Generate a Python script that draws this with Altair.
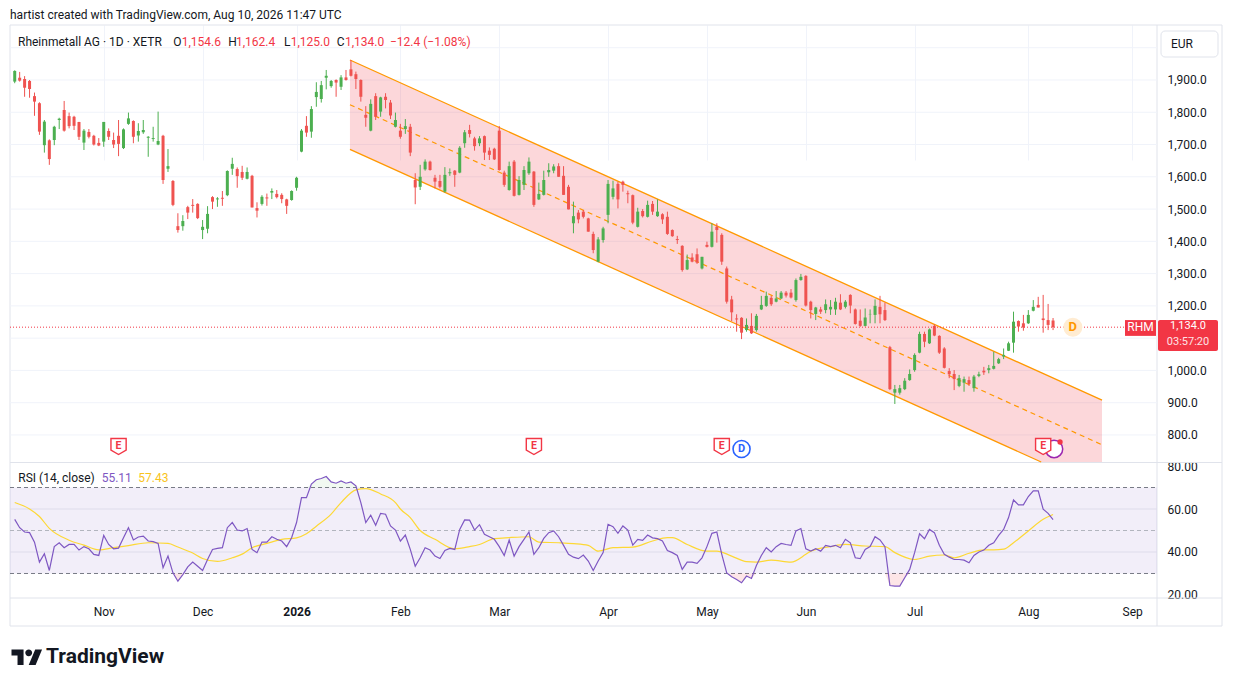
import json
import altair as alt
import pandas as pd

FONT = "Roboto"
INK = "#131722"
UP = "#4caf50"
DOWN = "#ef5350"
RED = "#f23645"
GRID = "#f0f3fa"
LINE = "#e0e3eb"
ORANGE = "#ff9800"
PURPLE = "#7e57c2"
YELLOW = "#fdd835"

# ---------------- data (bar index 0 = 3 Nov 2025, daily XETR bars) ----------------
START = -18

O = [1895, 1907, 1903, 1897, 1850, 1828, 1698, 1713, 1714, 1776,
     1807, 1788, 1786, 1770, 1706, 1739, 1727, 1705, 1709, 1742,
     1714, 1727, 1689, 1764, 1773, 1728, 1738, 1721, 1717, 1700,
     1727, 1625, 1587, 1447, 1447, 1506, 1513, 1516, 1435, 1439,
     1537, 1530, 1535, 1543, 1625, 1624, 1615, 1594, 1603, 1503,
     1516, 1536, 1551, 1547, 1544, 1530, 1528, 1566, 1678, 1758,
     1740, 1847, 1841, 1907, 1881, 1900, 1879, 1908, 1933, 1918,
     1900, 1792, 1743, 1850, 1802, 1848, 1830, 1755, 1743, 1748,
     1755, 1590, 1569, 1623, 1647, 1597, 1587, 1554, 1611, 1619,
     1613, 1704, 1745, 1719, 1704, 1726, 1681, 1687, 1743, 1613,
     1559, 1647, 1544, 1575, 1611, 1616, 1530, 1544, 1614, 1619,
     1633, 1603, 1569, 1456, 1489, 1492, 1471, 1423, 1337, 1404,
     1482, 1538, 1578, 1585, 1549, 1543, 1445, 1494, 1476, 1516,
     1478, 1484, 1476, 1435, 1407, 1386, 1313, 1350, 1360, 1316,
     1389, 1383, 1445, 1420, 1316, 1220, 1161, 1163, 1125, 1138,
     1125, 1189, 1200, 1225, 1213, 1223, 1241, 1241, 1218, 1280,
     1293, 1213, 1175, 1189, 1187, 1189, 1189, 1210, 1197, 1234,
     1189, 1154, 1138, 1174, 1172, 1197, 1187, 1072, 931, 931,
     942, 970, 1001, 1055, 1113, 1084, 1138, 1107, 1068, 998,
     989, 952, 962, 970, 945, 983, 999, 1001, 1005, 1022,
     1043, 1061, 1086, 1153, 1146, 1146, 1185, 1203, 1161, 1156,
     1154.6]
H = [1930, 1925, 1912, 1900, 1861, 1831, 1776, 1716, 1758, 1783,
     1835, 1799, 1789, 1770, 1748, 1748, 1730, 1720, 1770, 1750,
     1737, 1776, 1750, 1799, 1775, 1766, 1776, 1726, 1755, 1802,
     1730, 1686, 1590, 1487, 1481, 1510, 1531, 1518, 1466, 1509,
     1540, 1537, 1556, 1620, 1659, 1629, 1634, 1629, 1606, 1521,
     1543, 1548, 1564, 1559, 1549, 1532, 1558, 1600, 1748, 1788,
     1819, 1893, 1897, 1931, 1900, 1902, 1915, 1931, 1962, 1926,
     1902, 1819, 1840, 1859, 1848, 1859, 1838, 1799, 1764, 1779,
     1764, 1611, 1637, 1654, 1650, 1606, 1606, 1630, 1626, 1621,
     1695, 1745, 1761, 1724, 1726, 1728, 1691, 1690, 1757, 1619,
     1647, 1652, 1602, 1633, 1660, 1618, 1582, 1619, 1642, 1639,
     1642, 1633, 1575, 1523, 1497, 1497, 1473, 1430, 1413, 1445,
     1590, 1588, 1585, 1588, 1557, 1545, 1504, 1500, 1526, 1525,
     1530, 1487, 1492, 1437, 1417, 1388, 1359, 1363, 1378, 1352,
     1399, 1456, 1456, 1425, 1322, 1231, 1174, 1165, 1161, 1177,
     1175, 1231, 1244, 1231, 1246, 1246, 1246, 1252, 1285, 1299,
     1295, 1216, 1197, 1197, 1220, 1218, 1225, 1236, 1218, 1236,
     1192, 1189, 1192, 1189, 1220, 1231, 1210, 1076, 955, 955,
     976, 1003, 1053, 1120, 1120, 1130, 1143, 1109, 1072, 1007,
     1001, 986, 981, 981, 986, 996, 1011, 1017, 1058, 1039,
     1068, 1089, 1182, 1155, 1172, 1187, 1218, 1228, 1234, 1206,
     1162.4]
L = [1890, 1895, 1848, 1845, 1789, 1730, 1675, 1637, 1698, 1748,
     1740, 1750, 1745, 1714, 1683, 1719, 1697, 1695, 1693, 1714,
     1689, 1664, 1686, 1761, 1704, 1709, 1733, 1662, 1709, 1698,
     1578, 1615, 1509, 1427, 1433, 1469, 1489, 1469, 1407, 1425,
     1500, 1507, 1510, 1540, 1606, 1566, 1590, 1592, 1505, 1474,
     1511, 1510, 1531, 1533, 1518, 1485, 1526, 1557, 1676, 1724,
     1721, 1817, 1830, 1871, 1876, 1848, 1869, 1898, 1911, 1872,
     1833, 1755, 1741, 1776, 1786, 1812, 1779, 1753, 1718, 1733,
     1664, 1515, 1559, 1619, 1619, 1564, 1564, 1551, 1603, 1569,
     1611, 1690, 1722, 1681, 1695, 1652, 1652, 1652, 1619, 1569,
     1557, 1539, 1542, 1559, 1606, 1507, 1528, 1542, 1600, 1611,
     1600, 1544, 1499, 1425, 1456, 1471, 1430, 1363, 1335, 1396,
     1456, 1530, 1502, 1554, 1518, 1453, 1443, 1474, 1474, 1482,
     1476, 1454, 1420, 1414, 1392, 1306, 1311, 1335, 1330, 1313,
     1381, 1381, 1396, 1327, 1207, 1153, 1120, 1097, 1120, 1113,
     1120, 1187, 1197, 1200, 1211, 1221, 1226, 1223, 1213, 1278,
     1198, 1161, 1156, 1175, 1177, 1172, 1172, 1187, 1192, 1177,
     1142, 1135, 1136, 1146, 1146, 1146, 1153, 939, 896, 925,
     939, 968, 996, 1053, 1072, 1082, 1106, 1051, 1006, 976,
     939, 948, 934, 952, 934, 979, 986, 991, 1003, 1020,
     1035, 1060, 1055, 1120, 1123, 1144, 1183, 1195, 1117, 1125,
     1125.0]
C = [1928, 1898, 1876, 1872, 1833, 1740, 1771, 1655, 1755, 1780,
     1743, 1757, 1758, 1724, 1743, 1724, 1700, 1697, 1770, 1724,
     1700, 1702, 1747, 1781, 1724, 1742, 1745, 1724, 1720, 1711,
     1590, 1633, 1513, 1435, 1463, 1489, 1510, 1472, 1445, 1485,
     1523, 1533, 1532, 1618, 1640, 1602, 1597, 1615, 1505, 1495,
     1538, 1533, 1556, 1537, 1531, 1510, 1556, 1597, 1743, 1737,
     1810, 1863, 1884, 1913, 1897, 1892, 1908, 1900, 1913, 1903,
     1848, 1783, 1826, 1786, 1846, 1838, 1790, 1776, 1724, 1757,
     1675, 1567, 1600, 1647, 1621, 1585, 1569, 1606, 1614, 1606,
     1690, 1738, 1733, 1695, 1719, 1675, 1668, 1654, 1621, 1575,
     1633, 1541, 1590, 1621, 1647, 1513, 1547, 1590, 1621, 1632,
     1600, 1544, 1499, 1478, 1468, 1476, 1430, 1373, 1406, 1440,
     1578, 1564, 1530, 1575, 1546, 1458, 1492, 1478, 1513, 1492,
     1492, 1468, 1423, 1416, 1404, 1311, 1342, 1337, 1334, 1352,
     1383, 1430, 1435, 1337, 1213, 1180, 1158, 1117, 1141, 1115,
     1169, 1203, 1231, 1205, 1223, 1241, 1232, 1226, 1280, 1290,
     1201, 1187, 1195, 1182, 1205, 1197, 1213, 1189, 1213, 1201,
     1144, 1138, 1164, 1175, 1200, 1174, 1156, 942, 942, 945,
     968, 989, 1048, 1113, 1089, 1127, 1108, 1055, 1008, 988,
     973, 976, 973, 958, 981, 988, 994, 1007, 1014, 1035,
     1048, 1084, 1151, 1136, 1133, 1172, 1197, 1195, 1156, 1141,
     1134.0]

RSI = [55.2, 51.3, 49.3, 49.0, 44.6, 35.3, 39.2, 31.4, 42.5, 44.3,
       42.0, 43.5, 43.5, 40.9, 42.5, 41.5, 38.9, 38.4, 47.7, 43.5,
       41.5, 41.8, 46.6, 51.3, 45.6, 47.0, 47.4, 45.1, 44.8, 44.0,
       32.7, 38.1, 30.3, 26.4, 29.5, 33.1, 35.3, 33.4, 31.4, 36.5,
       41.2, 41.7, 42.0, 51.3, 53.7, 50.2, 49.8, 50.9, 41.2, 39.7,
       44.6, 44.6, 47.1, 45.9, 45.1, 42.5, 46.6, 53.7, 65.3, 65.3,
       71.6, 73.6, 74.2, 75.1, 72.6, 72.0, 73.1, 72.0, 72.6, 70.8,
       63.0, 53.7, 57.1, 52.4, 58.0, 57.6, 52.1, 50.2, 45.1, 47.9,
       41.2, 33.4, 37.3, 42.0, 40.9, 38.1, 37.0, 40.7, 41.7, 41.2,
       50.5, 54.9, 54.8, 50.2, 52.7, 48.2, 47.1, 45.9, 42.5, 38.4,
       45.6, 38.1, 42.5, 45.9, 49.3, 38.9, 42.0, 46.3, 49.0, 49.8,
       47.1, 43.1, 38.9, 37.6, 36.9, 38.6, 35.8, 31.4, 35.8, 39.7,
       52.9, 51.8, 48.7, 52.1, 50.2, 43.2, 45.9, 45.4, 47.9, 46.6,
       46.2, 45.1, 40.7, 39.7, 38.4, 31.9, 35.3, 35.3, 34.7, 37.3,
       42.5, 48.7, 49.3, 38.9, 30.3, 28.5, 27.2, 25.7, 28.8, 27.7,
       33.7, 38.4, 42.0, 40.0, 42.5, 44.0, 43.5, 43.1, 49.8, 50.9,
       41.5, 40.4, 41.5, 40.4, 43.1, 42.5, 43.1, 42.0, 45.9, 44.3,
       37.3, 36.9, 41.2, 42.5, 47.1, 45.6, 42.5, 24.4, 24.1, 24.1,
       28.0, 31.9, 39.7, 48.5, 46.2, 50.5, 49.0, 43.1, 38.9, 37.6,
       36.5, 36.5, 36.2, 35.0, 38.4, 40.0, 40.9, 43.1, 44.3, 47.7,
       50.5, 56.0, 64.2, 61.9, 61.9, 65.8, 68.4, 68.4, 59.9, 58.0,
       55.11]

MA_IDX = [-18, -15, -13, -11, -7, -4, -1, 2, 5, 9, 13, 15, 18, 20, 23, 26, 28, 30, 33, 36,
          39, 41, 43, 46, 48, 51, 53, 56, 59, 60, 62, 64, 67, 71, 74, 76, 79, 82, 86, 88,
          92, 95, 98, 100, 103, 107, 111, 114, 115, 118, 122, 124, 127, 130, 132, 135, 139,
          142, 143, 147, 150, 154, 158, 160, 164, 167, 170, 172, 175, 178, 180, 182, 184,
          187, 190, 192]
MA_VAL = [63.0, 60.0, 56.5, 51.0, 45.5, 43.2, 41.0, 42.0, 43.0, 44.3, 44.0, 42.3, 39.5, 37.0,
          35.6, 37.3, 39.0, 42.0, 44.0, 45.9, 46.6, 48.5, 52.0, 57.6, 63.0, 68.9, 69.5, 67.0,
          63.0, 60.0, 56.0, 50.0, 45.9, 41.5, 42.5, 43.5, 46.2, 46.7, 47.1, 44.6, 44.3, 43.9,
          43.1, 40.4, 42.0, 42.3, 45.1, 46.7, 46.7, 43.5, 40.4, 40.4, 38.1, 35.5, 35.3, 36.2,
          35.3, 38.9, 40.4, 42.5, 43.5, 42.8, 42.5, 39.7, 36.5, 38.1, 38.6, 37.3, 39.4, 41.0,
          41.0, 41.3, 44.3, 49.8, 55.2, 57.43]

TICK_IDX = [0, 20, 39, 60, 80, 102, 122, 142, 164, 187, 208]
TICK_LAB = ["Nov", "Dec", "2026", "Feb", "Mar", "Apr", "May", "Jun", "Jul", "Aug", "Sep"]
PRICE_TICKS = [800, 900, 1000, 1100, 1200, 1300, 1400, 1500, 1600, 1700, 1800, 1900]
PRICE_GRID = PRICE_TICKS + [2000]
RSI_TICKS = [20, 40, 60, 80]

CHAN_IDX = [49.8, 189.6, 201.9]
CHAN_UP = [1962, 993, 908]
CHAN_LO = [1685, 716, 631]
MID_IDX = [49.8, 201.9]
MID_VAL = [1823.5, 769.5]

E_IDX = [3, 87, 125, 190]
DIV_IDX = [129]
SPLIT_IDX = [192]
NEXT_DIV_IDX = [196]
LAST = [1134.0]

# ---------------- frames ----------------
idx = list(range(START, START + len(C)))
cdf = pd.DataFrame({"i": idx, "o": O, "h": H, "l": L, "c": C})
cdf["dir"] = ["up" if c >= o else "down" for o, c in zip(O, C)]
rdf = pd.DataFrame({"i": idx, "r": RSI})
madf = pd.DataFrame({"i": MA_IDX, "v": MA_VAL})
chdf = pd.DataFrame({"i": CHAN_IDX, "up": CHAN_UP, "lo": CHAN_LO})
middf = pd.DataFrame({"i": MID_IDX, "m": MID_VAL})
lastdf = pd.DataFrame({"p": LAST})
ONE = pd.DataFrame({"k": [0]})

W, HGT = 1147, 573

lab_expr = "%s[indexof(%s, datum.value)]" % (json.dumps(TICK_LAB).replace('"', "'"), json.dumps(TICK_IDX))

xs = alt.Scale(domain=[-17.943, 212.01], nice=False, zero=False)
ysp = alt.Scale(domain=[716.2, 2070.4], range=[437, 0], nice=False, zero=False, clamp=True)
ysr = alt.Scale(domain=[18.6, 81.4], range=[573, 438], nice=False, zero=False)

x_axis = alt.Axis(values=TICK_IDX, labelExpr=lab_expr, grid=True, gridColor=GRID, gridWidth=1,
                  ticks=False, tickSize=0, domain=False, labelFont=FONT, labelFontSize=12,
                  labelColor=INK, labelPadding=8, title=None, labelFlush=False, labelOverlap=False,
                  labelFontWeight={"condition": {"test": "datum.value == 39", "value": "bold"},
                                   "value": "normal"})
yp_axis = alt.Axis(orient="right", values=PRICE_TICKS, format=",.1f", grid=False, ticks=False,
                   tickSize=0, domain=False, labelFont=FONT, labelFontSize=12, labelColor=INK,
                   labelPadding=10, labelAlign="left", title=None, labelOverlap=False)
yr_axis = alt.Axis(orient="right", values=RSI_TICKS, format=".2f", grid=False, ticks=False,
                   tickSize=0, domain=False, labelFont=FONT, labelFontSize=12, labelColor=INK,
                   labelPadding=10, labelAlign="left", title=None, labelOverlap=False)

X = alt.X("i:Q", scale=xs, axis=x_axis)


def Yp(f):
    return alt.Y(f, scale=ysp, axis=yp_axis)


def Yr(f):
    return alt.Y(f, scale=ysr, axis=yr_axis)


def txt(s, x, y, size=12, color=INK, weight="normal", align="left"):
    return alt.Chart(ONE).mark_text(text=s, font=FONT, fontSize=size, color=color,
                                    fontWeight=weight, align=align, baseline="middle").encode(
        x=alt.value(x), y=alt.value(y))


def hline(y, x0, x1, color=LINE):
    return alt.Chart(ONE).mark_rule(color=color, strokeWidth=1).encode(
        x=alt.value(x0), x2=alt.value(x1), y=alt.value(y))


def vline(x, y0, y1, color=LINE):
    return alt.Chart(ONE).mark_rule(color=color, strokeWidth=1).encode(
        x=alt.value(x), y=alt.value(y0), y2=alt.value(y1))


# ---------------- frame ----------------
frame = alt.Chart(ONE).mark_rect(fillOpacity=0, stroke=LINE, strokeWidth=1).encode(
    x=alt.value(0), x2=alt.value(1212), y=alt.value(0), y2=alt.value(601))
frame_layers = [frame, vline(W, 0, 601), hline(437.5, 0, 1212), hline(HGT, 0, 1212)]

# ---------------- RSI panel ----------------
rgrid = alt.Chart(pd.DataFrame({"v": [40, 60]})).mark_rule(color="#e9ebf1").encode(
    y=Yr("v:Q"), x=alt.value(0), x2=alt.value(W))
band = alt.Chart(pd.DataFrame({"a": [30], "b": [70]})).mark_rect(color=PURPLE, opacity=0.1).encode(
    y=Yr("a:Q"), y2="b:Q", x=alt.value(0), x2=alt.value(W))
dash = alt.Chart(pd.DataFrame({"v": [30, 70]})).mark_rule(color="#787b86", strokeDash=[4, 3]).encode(
    y=Yr("v:Q"), x=alt.value(0), x2=alt.value(W))
dash50 = alt.Chart(pd.DataFrame({"v": [50]})).mark_rule(color="#b2b5be", strokeDash=[4, 3]).encode(
    y=Yr("v:Q"), x=alt.value(0), x2=alt.value(W))
os_fill = alt.Chart(rdf).transform_calculate(lo="min(datum.r, 30)", base="30").mark_area(
    color=RED, opacity=0.13, clip=True).encode(x=X, y=Yr("lo:Q"), y2="base:Q")
ob_fill = alt.Chart(rdf).transform_calculate(hi="max(datum.r, 70)", base="70").mark_area(
    color=UP, opacity=0.08, clip=True).encode(x=X, y=Yr("hi:Q"), y2="base:Q")
ma_line = alt.Chart(madf).mark_line(color=YELLOW, strokeWidth=1.2, interpolate="monotone", clip=True).encode(
    x=X, y=Yr("v:Q"))
rsi_line = alt.Chart(rdf).mark_line(color=PURPLE, strokeWidth=1.2, clip=True).encode(x=X, y=Yr("r:Q"))
rsi_layer = alt.layer(rgrid, band, dash, dash50, os_fill, ob_fill, ma_line, rsi_line)

# ---------------- price panel ----------------
pgrid = alt.Chart(pd.DataFrame({"p": PRICE_GRID})).mark_rule(color=GRID).encode(
    y=Yp("p:Q"), x=alt.value(0), x2=alt.value(W))
ch_area = alt.Chart(chdf).mark_area(color=RED, opacity=0.2, clip=True).encode(x=X, y=Yp("lo:Q"), y2="up:Q")
ch_up = alt.Chart(chdf).mark_line(color=ORANGE, strokeWidth=1.3, clip=True).encode(x=X, y=Yp("up:Q"))
ch_lo = alt.Chart(chdf.iloc[:2]).mark_line(color=ORANGE, strokeWidth=1.3, clip=True).encode(x=X, y=Yp("lo:Q"))
ch_mid = alt.Chart(middf).mark_line(color=ORANGE, strokeWidth=1.2, strokeDash=[5, 4], clip=True).encode(
    x=X, y=Yp("m:Q"))
col = alt.Color("dir:N", scale=alt.Scale(domain=["up", "down"], range=[UP, DOWN]), legend=None)
wick = alt.Chart(cdf).mark_rule(strokeWidth=1, clip=True).encode(x=X, y=Yp("l:Q"), y2="h:Q", color=col)
body = alt.Chart(cdf).mark_bar(size=3, clip=True).encode(x=X, y=Yp("o:Q"), y2="c:Q", color=col)
last_line = alt.Chart(lastdf).mark_rule(color=RED, strokeDash=[1, 2], strokeWidth=1).encode(
    y=Yp("p:Q"), x=alt.value(0), x2=alt.value(1115))
nd = pd.DataFrame({"i": NEXT_DIV_IDX, "p": LAST})
nd_c = alt.Chart(nd).mark_point(shape="circle", filled=True, color="#ffecd2", size=360, opacity=1).encode(
    x=X, y=Yp("p:Q"))
nd_t = alt.Chart(nd).mark_text(text="D", color=ORANGE, fontWeight="bold", fontSize=13, font=FONT).encode(
    x=X, y=Yp("p:Q"))
price_layer = alt.layer(pgrid, ch_area, ch_up, ch_lo, ch_mid, wick, body, last_line, nd_c, nd_t)

# ---------------- price tags (own scale copies, no axis) ----------------
def Yt(f):
    return alt.Y(f, scale=ysp, axis=None)


tag_rhm = alt.Chart(lastdf).transform_calculate(t="datum.p + 22", b="datum.p - 27").mark_rect(color=RED).encode(
    x=alt.value(1115), x2=alt.value(1146), y=Yt("t:Q"), y2="b:Q")
tag_px = alt.Chart(lastdf).transform_calculate(t="datum.p + 22", b="datum.p - 74").mark_rect(
    color=RED, cornerRadius=2).encode(x=alt.value(1148), x2=alt.value(1208), y=Yt("t:Q"), y2="b:Q")
t_rhm = alt.Chart(lastdf).mark_text(text="RHM", color="white", font=FONT, fontSize=12).encode(
    x=alt.value(1130.5), y=Yt("p:Q"))
t_px = alt.Chart(lastdf).transform_calculate(q="datum.p + 4").mark_text(
    color="white", font=FONT, fontSize=11).encode(
    x=alt.value(1178), y=Yt("q:Q"), text=alt.Text("p:Q", format=",.1f"))
t_cd = alt.Chart(lastdf).transform_calculate(q="datum.p - 45").mark_text(
    text="03:57:20", color="#fde3e5", font=FONT, fontSize=11).encode(
    x=alt.value(1178), y=Yt("q:Q"))

# ---------------- event markers ----------------
E_PATH = "M-0.95,-1L0.95,-1L0.95,0.45L0,1L-0.95,0.45Z"
edf = pd.DataFrame({"i": E_IDX})
ddf = pd.DataFrame({"i": DIV_IDX})
sdf = pd.DataFrame({"i": SPLIT_IDX})
split_c = alt.Chart(sdf).mark_point(shape="circle", filled=True, fill="white", stroke="#9c27b0",
                                    strokeWidth=1.5, size=300, opacity=1, xOffset=1).encode(
    x=X, y=alt.value(424))
e_sh = alt.Chart(edf).mark_point(shape=E_PATH, filled=True, fill="white", stroke=RED, strokeWidth=1.4,
                                 size=256, opacity=1).encode(x=X, y=alt.value(421.5))
e_tx = alt.Chart(edf).mark_text(text="E", color=RED, font=FONT, fontSize=10.5, fontWeight="bold").encode(
    x=X, y=alt.value(420.5))
dot = alt.Chart(sdf).mark_point(shape="circle", filled=True, color=RED, size=28, opacity=1, xOffset=7).encode(
    x=X, y=alt.value(417))
d_c = alt.Chart(ddf).mark_point(shape="circle", filled=True, fill="white", stroke="#2962ff", strokeWidth=1.6,
                                size=289, opacity=1).encode(x=X, y=alt.value(424))
d_tx = alt.Chart(ddf).mark_text(text="D", color="#2962ff", font=FONT, fontSize=11, fontWeight="bold").encode(
    x=X, y=alt.value(424))

# ---------------- texts ----------------
ohlc = [("O", O[-1]), ("H", H[-1]), ("L", L[-1]), ("C", C[-1])]
ohlc_x = [(163.3, 171.7), (218.3, 226), (274, 280.7), (326.7, 335)]
texts = [txt("hartist created with TradingView.com, Aug 10, 2026 11:47 UTC", 0, -10.5),
         txt("Rheinmetall AG \u00b7 1D \u00b7 XETR", 8, 17)]
for (k, v), (xk, xv) in zip(ohlc, ohlc_x):
    texts.append(txt(k, xk, 17))
    texts.append(txt(f"{v:,.1f}", xv, 17, color=RED))
texts.append(txt("\u221212.4 (\u22121.08%)", 380, 17, color=RED))
texts += [txt("RSI (14, close)", 8.3, 453),
          txt(f"{RSI[-1]:.2f}", 91.7, 453, color=PURPLE),
          txt(f"{MA_VAL[-1]:.2f}", 128.3, 453, color="#f9c31c")]
eur_box = alt.Chart(ONE).mark_rect(fill="white", stroke=LINE, strokeWidth=1, cornerRadius=4).encode(
    x=alt.value(1151), x2=alt.value(1208), y=alt.value(6), y2=alt.value(32))
texts += [eur_box, txt("EUR", 1161, 19)]

LOGO = ("M-0.222,0.444L-0.611,0.444L-0.611,-0.167L-1,-0.167L-1,-0.556L-0.222,-0.556Z"
        "M0.556,0.444L0.111,0.444L0.528,-0.556L0.972,-0.556Z"
        "M-0.111,-0.333A0.222,0.222 0 1,0 0.333,-0.333A0.222,0.222 0 1,0 -0.111,-0.333Z")
logo = alt.Chart(ONE).mark_point(shape=LOGO, filled=True, color=INK, size=961, opacity=1).encode(
    x=alt.value(17), y=alt.value(633))
texts += [logo, txt("TradingView", 36, 632, size=21, weight="bold")]

chart = alt.layer(
    *frame_layers, rsi_layer, price_layer,
    tag_rhm, tag_px, t_rhm, t_px, t_cd,
    split_c, e_sh, e_tx, dot, d_c, d_tx,
    *texts
).resolve_scale(y="independent").resolve_axis(y="independent").properties(
    width=W, height=HGT,
    padding={"left": 2, "top": 17, "right": 68, "bottom": 78},
    autosize=alt.AutoSizeParams(type="none"),
    background="white",
).configure_view(strokeWidth=0)

chart.save("out.html", embed_options={"renderer": "svg", "actions": False})
